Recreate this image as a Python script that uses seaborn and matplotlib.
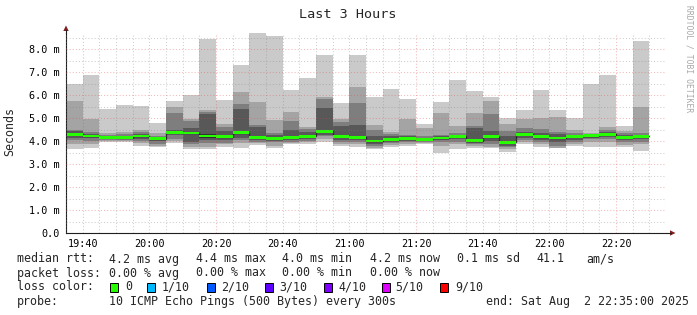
import matplotlib
matplotlib.use('Agg')
import numpy as np
import matplotlib.pyplot as plt
from matplotlib.ticker import MultipleLocator, FuncFormatter
from matplotlib.patches import Rectangle, Polygon
import seaborn as sns

# ---------------- data ----------------
slot_start = ["19:35", "19:40", "19:45", "19:50", "19:55", "20:00", "20:05", "20:10",
              "20:15", "20:20", "20:25", "20:30", "20:35", "20:40", "20:45", "20:50",
              "20:55", "21:00", "21:05", "21:10", "21:15", "21:20", "21:25", "21:30",
              "21:35", "21:40", "21:45", "21:50", "21:55", "22:00", "22:05", "22:10",
              "22:15", "22:20", "22:25"]

# sorted rtt of the 10 pings in each 5-minute slot (ms)
ping_01 = [3.64, 3.71, 3.97, 3.95, 3.80, 3.75, 3.90, 3.64, 3.64, 3.75, 3.68, 3.83, 3.71, 3.86, 3.86, 3.95, 3.80, 3.75,
           3.64, 3.75, 3.78, 3.86, 3.46, 3.64, 3.71, 3.68, 3.54, 3.86, 3.72, 3.68, 3.78, 3.75, 3.75, 3.75, 3.58]
ping_02 = [3.85, 3.85, 4.02, 3.99, 3.90, 3.80, 4.00, 3.72, 3.75, 3.85, 3.90, 3.90, 3.80, 3.90, 3.95, 4.10, 3.85, 3.85,
           3.70, 3.82, 3.87, 3.91, 3.80, 3.85, 3.78, 3.75, 3.65, 3.95, 3.85, 3.70, 3.86, 3.95, 3.95, 3.82, 3.85]
ping_03 = [4.05, 4.00, 4.06, 4.03, 4.00, 3.87, 4.10, 3.85, 3.90, 3.93, 4.04, 3.98, 3.95, 3.95, 4.02, 4.20, 3.95, 3.96,
           3.80, 3.90, 3.95, 3.96, 3.95, 3.95, 3.85, 3.85, 3.73, 4.05, 3.95, 3.80, 3.95, 4.08, 4.10, 3.95, 3.98]
ping_04 = [4.15, 4.12, 4.10, 4.08, 4.10, 4.00, 4.25, 3.95, 4.05, 4.05, 4.15, 4.05, 4.00, 4.03, 4.10, 4.28, 4.05, 4.05,
           3.88, 3.98, 4.02, 4.00, 4.03, 4.08, 3.92, 4.00, 3.80, 4.15, 4.05, 3.95, 4.05, 4.15, 4.18, 4.05, 4.08]
ping_05 = [4.25, 4.19, 4.14, 4.12, 4.19, 4.08, 4.35, 4.30, 4.14, 4.14, 4.29, 4.12, 4.08, 4.12, 4.16, 4.36, 4.15, 4.12,
           3.95, 4.05, 4.08, 4.05, 4.10, 4.17, 3.97, 4.14, 3.89, 4.26, 4.14, 4.08, 4.16, 4.20, 4.26, 4.14, 4.17]
ping_06 = [4.33, 4.25, 4.18, 4.17, 4.25, 4.12, 4.42, 4.40, 4.30, 4.25, 4.42, 4.20, 4.16, 4.20, 4.24, 4.50, 4.25, 4.22,
           4.05, 4.12, 4.15, 4.10, 4.17, 4.23, 4.06, 4.24, 4.00, 4.34, 4.24, 4.18, 4.24, 4.26, 4.32, 4.20, 4.24]
ping_07 = [4.42, 4.32, 4.22, 4.22, 4.30, 4.15, 4.50, 4.58, 5.17, 4.43, 5.39, 4.60, 4.25, 4.48, 4.40, 5.43, 4.65, 4.70,
           4.20, 4.20, 4.20, 4.14, 4.22, 4.28, 4.55, 4.43, 4.20, 4.38, 4.35, 4.30, 4.27, 4.28, 4.38, 4.25, 4.28]
ping_08 = [4.48, 4.40, 4.28, 4.30, 4.38, 4.22, 5.23, 4.87, 5.27, 4.62, 5.61, 4.70, 4.35, 4.88, 4.52, 5.83, 4.81, 5.67,
           4.48, 4.30, 4.25, 4.20, 4.28, 4.35, 4.65, 5.17, 4.43, 4.58, 4.51, 4.41, 4.33, 4.30, 4.50, 4.33, 4.35]
ping_09 = [5.75, 4.96, 4.36, 4.38, 4.48, 4.33, 5.49, 4.96, 5.35, 4.72, 6.14, 5.68, 4.91, 5.28, 4.62, 5.90, 4.96, 6.36,
           4.70, 4.41, 4.94, 4.55, 5.22, 4.65, 5.22, 5.74, 4.74, 4.94, 4.99, 5.03, 4.48, 4.35, 4.59, 4.45, 5.49]
ping_10 = [6.50, 6.87, 5.39, 5.57, 5.52, 4.80, 5.74, 6.00, 8.43, 5.78, 7.30, 8.71, 8.58, 6.22, 6.74, 7.74, 5.65, 7.74,
           5.93, 6.26, 5.83, 4.74, 5.70, 6.65, 6.17, 5.93, 5.00, 5.35, 6.22, 5.35, 4.99, 6.48, 6.87, 4.65, 8.35]

y_ticks = [0, 1, 2, 3, 4, 5, 6, 7, 8]
title = "Last 3 Hours"
y_label = "Seconds"

rtt_label = "median rtt:"
rtt_stats = ["4.2 ms avg", "4.4 ms max", "4.0 ms min", "4.2 ms now", "0.1 ms sd", "41.1", "am/s"]
loss_label = "packet loss:"
loss_stats = ["0.00 % avg", "0.00 % max", "0.00 % min", "0.00 % now"]
color_label = "loss color:"
loss_names = ["0", "1/10", "2/10", "3/10", "4/10", "5/10", "9/10"]
loss_colors = ["#26ff00", "#00b8ff", "#0059ff", "#5e00ff", "#7e00ff", "#dd00ff", "#ff0000"]
probe_label = "probe:"
probe_text = "10 ICMP Echo Pings (500 Bytes) every 300s"
end_text = "end: Sat Aug  2 22:35:00 2025"
watermark = "RRDTOOL / TOBI OETIKER"

# ---------------- style ----------------
sns.set_style("white")
plt.rcParams['font.family'] = ['DejaVu Sans Mono', 'DejaVu Sans']

W, H = 697, 315
fig = plt.figure(figsize=(W / 100, H / 100), dpi=100, facecolor='white')
ax = fig.add_axes([66 / W, 1 - 233 / H, 600 / W, 200 / H])
ax.set_facecolor('white')

mins = np.array([int(s[:2]) * 60 + int(s[3:]) for s in slot_start], float)
edges = np.append(mins, mins[-1] + 5)
pings = np.vstack([ping_01, ping_02, ping_03, ping_04, ping_05,
                   ping_06, ping_07, ping_08, ping_09, ping_10])
median = np.median(pings, axis=0)

smoke_grays = ['#cacaca', '#a4a4a4', '#7e7e7e', '#585858', '#323232']
for i in range(5):
    ax.stairs(pings[9 - i], edges, baseline=pings[i], fill=True,
              color=smoke_grays[i], lw=0, zorder=1)

sns.lineplot(x=edges, y=np.append(median, median[-1]), drawstyle='steps-post',
             color='#202020', lw=0.9, ax=ax, zorder=2)
sw = 0.125
ax.stairs(median + sw / 2, edges, baseline=median - sw / 2, fill=True,
          color=loss_colors[0], lw=0, zorder=2.2)

ax.set_xlim(edges[0], edges[0] + 180)
ax.set_ylim(0, 8.7)

ax.xaxis.set_major_locator(MultipleLocator(20))
ax.xaxis.set_minor_locator(MultipleLocator(5))
ax.set_yticks(y_ticks)
ax.yaxis.set_minor_locator(MultipleLocator(0.5))
ax.xaxis.set_major_formatter(FuncFormatter(lambda v, p: f"{int(v) // 60:02d}:{int(v) % 60:02d}"))
ax.yaxis.set_major_formatter(FuncFormatter(lambda v, p: "0.0" if v == 0 else f"{v:.1f} m"))

ax.set_axisbelow(False)
ax.grid(True, which='major', color=(0.88, 0.30, 0.30), alpha=0.38, ls=(0, (1, 2)), lw=0.75)
ax.grid(True, which='minor', color=(0.50, 0.50, 0.50), alpha=0.38, ls=(0, (1, 2)), lw=0.75)

for s in ['top', 'right']:
    ax.spines[s].set_visible(False)
for s in ['left', 'bottom']:
    ax.spines[s].set_color('#1f1f1f')
    ax.spines[s].set_linewidth(0.8)
ax.tick_params(which='major', direction='out', length=2.5, width=0.7, color='#1f1f1f',
               pad=2, labelsize=7.3, labelcolor='black')
ax.tick_params(which='minor', direction='out', length=1.6, width=0.7, color='#1f1f1f')
ax.set_xlabel('')
ax.set_ylabel('')

# ---------------- overlay in pixel coordinates ----------------
ov = fig.add_axes([0, 0, 1, 1], zorder=5)
ov.set_xlim(0, W)
ov.set_ylim(H, 0)
ov.axis('off')

arrow_c = (0.5, 0.12, 0.12)
ov.plot([666, 671], [233, 233], color='#1f1f1f', lw=0.8)
ov.add_patch(Polygon([(670, 230.3), (670, 235.7), (675.5, 233)], closed=True, color=arrow_c, lw=0))
ov.plot([66, 66], [33, 30], color='#1f1f1f', lw=0.8)
ov.add_patch(Polygon([(63.3, 31), (68.7, 31), (66, 25.5)], closed=True, color=arrow_c, lw=0))

ov.text(348, 14, title, ha='center', va='center', fontsize=9.7)
ov.text(10, 131, y_label, rotation=90, ha='center', va='center', fontsize=8.4)
ov.text(689, 5, watermark, rotation=270, ha='center', va='top', fontsize=5.8, color='#a8a8a8')

fs = 8.4
col_x = [108.8, 195.6, 282.4, 369.6, 456.8, 536.3, 585.8]
ov.text(16.6, 259, rtt_label, ha='left', va='center', fontsize=fs)
for x, s in zip(col_x, rtt_stats):
    ov.text(x, 259, s, ha='left', va='center', fontsize=fs)
ov.text(16.6, 273, loss_label, ha='left', va='center', fontsize=fs)
for x, s in zip(col_x, loss_stats):
    ov.text(x, 273, s, ha='left', va='center', fontsize=fs)

ov.text(16.6, 287, color_label, ha='left', va='center', fontsize=fs)
box_x = [109.7, 147.0, 207.0, 265.0, 323.6, 382.0, 440.0]
lab_x = [125.0, 162.0, 221.0, 279.0, 338.0, 395.5, 455.0]
for bx, lx, name, c in zip(box_x, lab_x, loss_names, loss_colors):
    ov.add_patch(Rectangle((bx, 282.5), 8, 9, facecolor=c, edgecolor='black', lw=0.7))
    ov.text(lx, 287, name, ha='left', va='center', fontsize=fs)

ov.text(16.6, 301, probe_label, ha='left', va='center', fontsize=fs)
ov.text(108.8, 301, probe_text, ha='left', va='center', fontsize=fs)
ov.text(688.5, 301, end_text, ha='right', va='center', fontsize=fs)

fig.savefig('out.png', dpi=100, facecolor='white')
